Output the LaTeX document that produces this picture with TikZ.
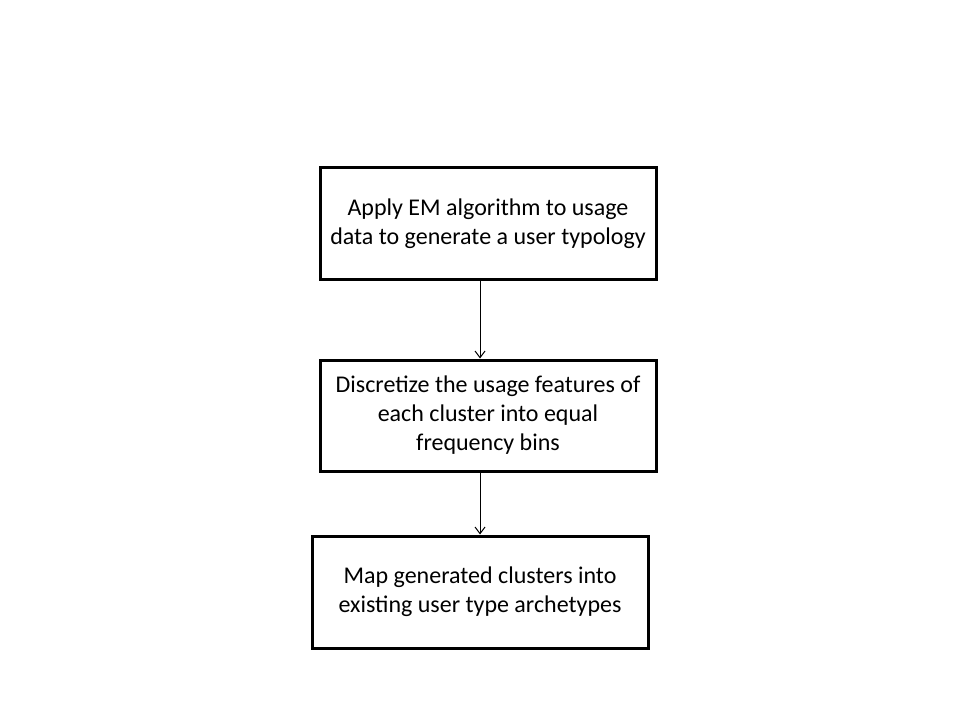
\documentclass[tikz,border=0pt]{standalone}
\usepackage{fontspec}
\setmainfont{Carlito}
\usetikzlibrary{positioning, arrows.meta}
\tikzset{stepbox/.style={draw, line width=2.25pt, minimum width=252pt, minimum height=84pt, align=center, inner sep=0pt, font=\fontsize{18}{21.75}\selectfont}, link/.style={line width=0.75pt, -{Straight Barb[length=5pt, width=7.5pt]}}}

\begin{document}
\begin{tikzpicture}[x=0.75pt, y=-0.75pt]
	\useasboundingbox (0,0) rectangle (960,720);
	\node[stepbox] (Typology) at (488,224) {Apply EM algorithm to usage\\data to generate a user typology};
	\node[stepbox, minimum height=83.25pt] (Discretize) at (488,415.5) {Discretize the usage features of\\each cluster into equal\\frequency bins};
	\node[stepbox] (Archetypes) at (480,592) {Map generated clusters into\\existing user type archetypes};
	\draw[link] (Typology.south -| Archetypes) -- (Discretize.north -| Archetypes);
	\draw[link] (Discretize.south -| Archetypes) -- (Archetypes.north);
\end{tikzpicture}
\end{document}
